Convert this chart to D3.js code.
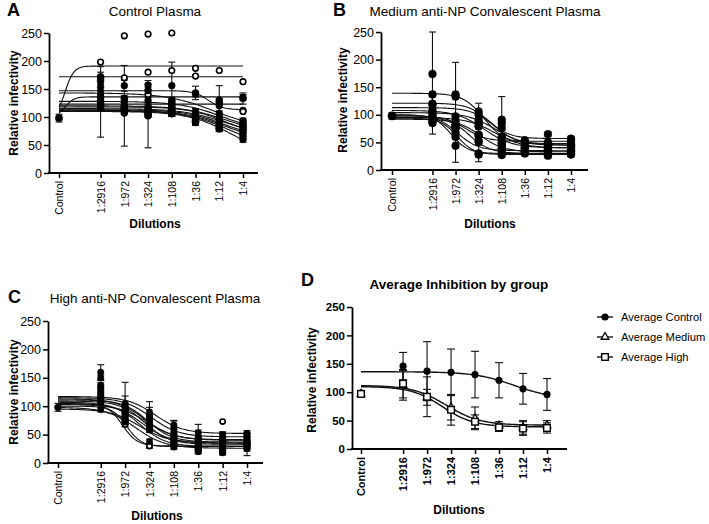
<!DOCTYPE html>
<html><head><meta charset="utf-8">
<script src="https://cdn.jsdelivr.net/npm/d3@7"></script>
<style>
body{margin:0;background:#fff}
svg{display:block}
text{font-family:"Liberation Sans",Arial,Helvetica,sans-serif;fill:#000}
</style>
</head><body>
<svg id="chart" width="709" height="524"></svg>
<script>
// ---------------- DATA ----------------
const dilutionLabels = ["1:2916", "1:972", "1:324", "1:108", "1:36", "1:12", "1:4"];
const dilutions = [2916, 972, 324, 108, 36, 12, 4];
const controlPseudoDilution = 20000;   // where the "Control" category sits on the dilution axis
const yTicks = [0, 50, 100, 150, 200, 250];

// Panel A – Control Plasma (values at 1:2916 … 1:4)
const aValues = [
  [198, 245, 248, 250, 187, 183, 163],
  [170, 170, 180, 183, 173, 130, 112],
  [122, 107, 140, 118, 100, 125, 110],
  [172, 156, 157, 156, 143, 120, 133],
  [168, 133, 147, 130, 141, 128, 135],
  [164, 131, 130, 127, 110, 106, 93],
  [153, 120, 118, 124, 105, 100, 90],
  [142, 117, 115, 120, 101, 95, 86],
  [135, 115, 113, 115, 98, 90, 83],
  [130, 112, 110, 112, 95, 86, 80],
  [127, 120, 102, 108, 92, 82, 76],
  [124, 115, 105, 106, 92, 79, 72],
  [120, 110, 108, 106, 90, 80, 66],
  [117, 112, 105, 106, 92, 79, 60]
];
const aSD = [
  [0,0,0,0,0,0,0],[0,0,0,0,0,0,0],[0,0,0,0,0,0,0],
  [8,10,8,42,12,36,10],
  [5,5,5,5,5,5,5],[5,5,5,5,5,5,5],[5,5,5,5,5,5,5],[5,5,5,5,5,5,5],
  [5,5,5,5,5,5,5],[5,5,5,5,5,5,5],
  [63,72,57,5,5,5,5],
  [5,5,5,5,5,5,5],[5,5,5,5,5,5,5],[5,5,5,5,5,5,5]
];
const aOpen = [true, true, true, false, false, false, false, false, false, false, false, false, false, false];
// fitted curve parameters: [top, bottom, midpoint dilution, hill]
const aFits = [
  [100, 191, 15000, 5], [172, 172, 1, 1], [123, 123, 1, 1],
  [147, 113, 20, 3], [100, 136, 15000, 5],
  [143, 78, 15, 0.9], [128, 72, 10, 1], [120, 70, 9, 1], [118, 68, 10, 1.2],
  [115, 65, 9, 1], [113, 62, 10, 1.1], [112, 55, 9, 1], [111, 45, 8, 1], [110, 30, 7, 1]
];

// Panel B – Medium anti-NP Convalescent Plasma
const bValues = [
  [174, 137, 106, 91, 54, 50, 45],
  [137, 133, 100, 85, 48, 45, 57],
  [120, 97, 85, 76, 45, 65, 52],
  [118, 88, 80, 57, 40, 42, 47],
  [109, 80, 79, 50, 38, 38, 44],
  [105, 44, 30, 27, 34, 30, 33],
  [100, 67, 51, 39, 36, 35, 36],
  [98, 79, 64, 48, 42, 40, 40],
  [95, 75, 62, 45, 32, 28, 30],
  [92, 60, 28, 30, 30, 26, 28],
  [88, 82, 52, 37, 35, 33, 35],
  [85, 77, 90, 60, 40, 36, 42]
];
const bSD = [
  [76, 58, 15, 42, 4, 4, 4],
  [4,4,4,4,4,4,4],[4,4,4,4,4,4,4],[4,4,4,4,4,4,4],[4,4,4,4,4,4,4],
  [5, 30, 15, 3, 4, 4, 4],
  [35, 4, 4, 4, 4, 4, 4],
  [4,4,4,4,4,4,4],[4,4,4,4,4,4,4],[4,4,4,4,4,4,4],[4,4,4,4,4,4,4],[4,4,4,4,4,4,4]
];
const bOpen = bValues.map(() => false);
const bFits = [
  [139, 48, 250, 2], [121, 57, 200, 2], [113, 45, 150, 1.8], [108, 40, 250, 1.5],
  [104, 45, 150, 1.5], [100, 30, 1200, 2.5], [100, 35, 900, 2], [98, 52, 600, 2],
  [96, 30, 500, 2], [94, 28, 900, 2.5], [92, 33, 300, 1.8], [95, 40, 150, 1.5]
];

// Panel C – High anti-NP Convalescent Plasma
const cValues = [
  [160, 105, 85, 62, 45, 45, 52],
  [150, 100, 90, 67, 53, 50, 50],
  [137, 98, 78, 55, 40, 38, 45],
  [132, 95, 80, 50, 42, 40, 40],
  [126, 90, 70, 45, 38, 35, 37],
  [120, 85, 72, 40, 35, 30, 33],
  [115, 80, 62, 38, 30, 28, 30],
  [112, 76, 60, 35, 28, 25, 28],
  [110, 72, 38, 30, 25, 22, 25],
  [105, 68, 30, 28, 22, 20, 35],
  [108, 74, 30, 33, 28, 73, 34],
  [94, 88, 58, 33, 20, 18, 29]
];
const cSD = [
  [13, 37, 23, 12, 23, 8, 5],
  [5, 18, 8, 8, 5, 5, 4],
  [4,4,4,4,4,4,4],[4,4,4,4,4,4,4],[4,4,4,4,4,4,4],[4,4,4,4,4,4,4],
  [4,4,4,4,4,4,4],[4,4,4,4,4,4,4],[4,4,4,4,4,4,4],[4,4,4,4,4,4,4],
  [0,0,0,0,0,0,0],
  [4, 4, 4, 4, 4, 4, 16]
];
const cOpen = [false, false, false, false, false, false, false, false, false, true, true, false];
const cFits = [
  [117, 52, 250, 1.6], [115, 46, 300, 1.6], [113, 41, 400, 1.6], [111, 37, 350, 1.8],
  [109, 33, 400, 1.8], [107, 29, 500, 1.7], [105, 35, 450, 1.6], [103, 40, 350, 1.5],
  [104, 30, 1100, 3], [100, 29, 900, 3], [98, 26, 600, 1.5], [95, 35, 500, 1.5]
];

// Control (reference) point of each panel: mean, SD
const controlMean = [98, 98, 98];
const controlSD = [7, 6, 7];

// Panel D – averages
const groupNames = ["Average Control", "Average Medium", "Average High"];
const avgControl = [146, 137, 135, 131, 121, 106, 96];
const avgControlSD = [24, 52, 41, 41, 31, 27, 28];
const avgMedium = [112, 91, 73, 54, 41, 38, 41];
const avgMediumSD = [26, 14, 22, 20, 7, 12, 9];
const avgHigh = [115, 92, 69, 48, 38, 36, 37];
const avgHighSD = [25, 35, 27, 12, 7, 12, 9];
const avgCtrlPoint = [98, 97, 97];
const avgCtrlPointSD = [5, 5, 5];
const avgFits = [[136, 88, 18, 1.1], [112, 42, 400, 1.3], [110, 39, 480, 1.4]];

// ---------------- DRAWING ----------------
const svg = d3.select("#chart");
svg.append("rect").attr("width", 709).attr("height", 524).attr("fill", "#fff");

function fitValue(p, D) {
  const [top, bottom, mid, h] = p;
  return bottom + (top - bottom) / (1 + Math.pow(mid / D, h));
}

function makePanel(cfg) {
  const g = svg.append("g");
  const x = d3.scaleLog().domain([controlPseudoDilution, 4]).range([cfg.ctrlX, cfg.lastX]);
  const y = d3.scaleLinear().domain([0, 250]).range([cfg.y0, cfg.y250]);
  const tickW = cfg.bold ? "bold" : "normal";

  // y axis
  const ya = g.append("g").attr("transform", `translate(${cfg.axisX},0)`)
    .call(d3.axisLeft(y).tickValues(yTicks).tickSize(5).tickSizeOuter(0).tickPadding(2));
  ya.select(".domain").attr("stroke-width", 1.8);
  ya.selectAll(".tick line").attr("stroke-width", 1.5);
  ya.selectAll(".tick text").attr("font-size", cfg.bold ? 11.5 : 12.5).attr("font-weight", tickW)
    .attr("font-family", '"Liberation Sans",Arial,sans-serif');

  // x axis
  const xa = g.append("g").attr("transform", `translate(0,${cfg.y0})`)
    .call(d3.axisBottom(x).tickValues([controlPseudoDilution, ...dilutions])
      .tickFormat((d, i) => i === 0 ? "Control" : dilutionLabels[i - 1]).tickSize(5));
  xa.select(".domain").remove();
  xa.selectAll(".tick line").attr("stroke-width", 1.5);
  xa.selectAll(".tick text")
    .attr("font-size", cfg.bold ? 11 : 10.5).attr("font-weight", tickW)
    .attr("font-family", '"Liberation Sans",Arial,sans-serif')
    .attr("text-anchor", "end").attr("transform", "rotate(-90)")
    .attr("x", -8).attr("y", 0).attr("dy", "0.35em");
  g.append("line").attr("x1", cfg.axisX - 0.9).attr("x2", cfg.axisEnd)
    .attr("y1", cfg.y0).attr("y2", cfg.y0).attr("stroke", "#000").attr("stroke-width", 1.8);

  // labels
  g.append("text").attr("x", cfg.letterX).attr("y", cfg.letterY).attr("font-size", 18)
    .attr("font-weight", "bold").text(cfg.letter);
  g.append("text").attr("x", cfg.titleX).attr("y", cfg.titleY).attr("font-size", 13.5)
    .attr("text-anchor", "middle").attr("font-weight", cfg.bold ? "bold" : "normal").text(cfg.title);
  g.append("text").attr("transform", `translate(${cfg.ylabX},${cfg.ylabY}) rotate(-90)`)
    .attr("text-anchor", "middle").attr("font-size", 12).attr("font-weight", "bold")
    .text("Relative infectivity");
  g.append("text").attr("x", cfg.xlabX).attr("y", cfg.xlabY).attr("text-anchor", "middle")
    .attr("font-size", 12).attr("font-weight", "bold").text("Dilutions");

  return { g, x, y };
}

const samples = d3.range(0, 121).map(k => controlPseudoDilution * Math.pow(4 / controlPseudoDilution, k / 120));

function drawCurves(p, fits, width) {
  const line = d3.line().x(d => p.x(d)).curve(d3.curveLinear);
  p.g.append("g").selectAll("path").data(fits).join("path")
    .attr("d", f => line.y(D => p.y(fitValue(f, D)))(samples))
    .attr("fill", "none").attr("stroke", "#111").attr("stroke-width", width);
}

function errorBar(p, xv, mean, sd, capW) {
  if (!sd) return;
  const lo = Math.max(0, mean - sd), hi = Math.min(250, mean + sd);
  const g = p.g.append("g").attr("stroke", "#111").attr("stroke-width", 1.1);
  const cx = p.x(xv);
  g.append("line").attr("x1", cx).attr("x2", cx).attr("y1", p.y(lo)).attr("y2", p.y(hi));
  g.append("line").attr("x1", cx - capW).attr("x2", cx + capW).attr("y1", p.y(lo)).attr("y2", p.y(lo));
  g.append("line").attr("x1", cx - capW).attr("x2", cx + capW).attr("y1", p.y(hi)).attr("y2", p.y(hi));
}

function drawSeriesPanel(cfg, values, sds, open, fits, ci) {
  const p = makePanel(cfg);
  drawCurves(p, fits, 1.1);
  values.forEach((row, s) => row.forEach((v, i) => errorBar(p, dilutions[i], v, sds[s][i], 3.5)));
  errorBar(p, controlPseudoDilution, controlMean[ci], controlSD[ci], 3.5);
  const pts = [];
  values.forEach((row, s) => row.forEach((v, i) => pts.push({ d: dilutions[i], v, open: open[s] })));
  pts.sort((a, b) => (a.open === b.open ? 0 : a.open ? -1 : 1));
  p.g.append("g").selectAll("circle").data(pts).join("circle")
    .attr("cx", d => p.x(d.d)).attr("cy", d => p.y(d.v))
    .attr("r", d => d.open ? cfg.r - 0.6 : cfg.r)
    .attr("fill", d => d.open ? "#fff" : "#000")
    .attr("stroke", "#000").attr("stroke-width", d => d.open ? 1.6 : 0.5);
  p.g.append("circle").attr("cx", p.x(controlPseudoDilution)).attr("cy", p.y(controlMean[ci]))
    .attr("r", cfg.r + 0.5).attr("fill", "#000");
  return p;
}

drawSeriesPanel({ axisX: 49, ctrlX: 59, lastX: 243, axisEnd: 258, y0: 173, y250: 33, r: 3.4,
  letter: "A", letterX: 7, letterY: 16, title: "Control Plasma", titleX: 155, titleY: 16,
  ylabX: 18, ylabY: 103, xlabX: 155, xlabY: 228 }, aValues, aSD, aOpen, aFits, 0);

drawSeriesPanel({ axisX: 381, ctrlX: 392, lastX: 571, axisEnd: 588, y0: 170, y250: 32, r: 3.9,
  letter: "B", letterX: 333, letterY: 16, title: "Medium anti-NP Convalescent Plasma", titleX: 485, titleY: 16,
  ylabX: 347, ylabY: 100, xlabX: 490, xlabY: 228 }, bValues, bSD, bOpen, bFits, 1);

drawSeriesPanel({ axisX: 48, ctrlX: 58, lastX: 247, axisEnd: 263, y0: 463, y250: 321, r: 3.2,
  letter: "C", letterX: 8, letterY: 303, title: "High anti-NP Convalescent Plasma", titleX: 155, titleY: 303,
  ylabX: 18, ylabY: 392, xlabX: 157, xlabY: 520 }, cValues, cSD, cOpen, cFits, 2);

// Panel D
(function () {
  const cfg = { axisX: 352, ctrlX: 361, lastX: 547, axisEnd: 567, y0: 449, y250: 307, bold: true,
    letter: "D", letterX: 301, letterY: 286, title: "Average Inhibition by group", titleX: 459, titleY: 289,
    ylabX: 316, ylabY: 380, xlabX: 459, xlabY: 514 };
  const p = makePanel(cfg);
  drawCurves(p, avgFits, 1.4);
  const groups = [[avgControl, avgControlSD], [avgMedium, avgMediumSD], [avgHigh, avgHighSD]];
  groups.forEach(([vals, sds], gi) => {
    vals.forEach((v, i) => errorBar(p, dilutions[i], v, sds[i], 4));
    errorBar(p, controlPseudoDilution, avgCtrlPoint[gi], avgCtrlPointSD[gi], 4);
  });
  const shapes = [
    sel => sel.append("circle").attr("r", 3.6).attr("fill", "#000"),
    sel => sel.append("path").attr("d", d3.symbol(d3.symbolTriangle, 26)()).attr("fill", "#fff")
      .attr("stroke", "#000").attr("stroke-width", 1.3),
    sel => sel.append("rect").attr("x", -3.3).attr("y", -3.3).attr("width", 6.6).attr("height", 6.6)
      .attr("fill", "#fff").attr("stroke", "#000").attr("stroke-width", 1.4)
  ];
  groups.forEach(([vals], gi) => {
    const pts = [{ d: controlPseudoDilution, v: avgCtrlPoint[gi] }, ...vals.map((v, i) => ({ d: dilutions[i], v }))];
    pts.forEach(pt => {
      const m = p.g.append("g").attr("transform", `translate(${p.x(pt.d)},${p.y(pt.v)})`);
      shapes[gi](m);
    });
  });
  // legend
  const leg = svg.append("g");
  groupNames.forEach((name, gi) => {
    const yy = 317 + gi * 20;
    leg.append("line").attr("x1", 597).attr("x2", 613).attr("y1", yy).attr("y2", yy)
      .attr("stroke", "#000").attr("stroke-width", 1.3);
    shapes[gi](leg.append("g").attr("transform", `translate(605,${yy})`));
    leg.append("text").attr("x", 621).attr("y", yy).attr("dy", "0.35em").attr("font-size", 11.2).text(name);
  });
})();
</script>
</body></html>
